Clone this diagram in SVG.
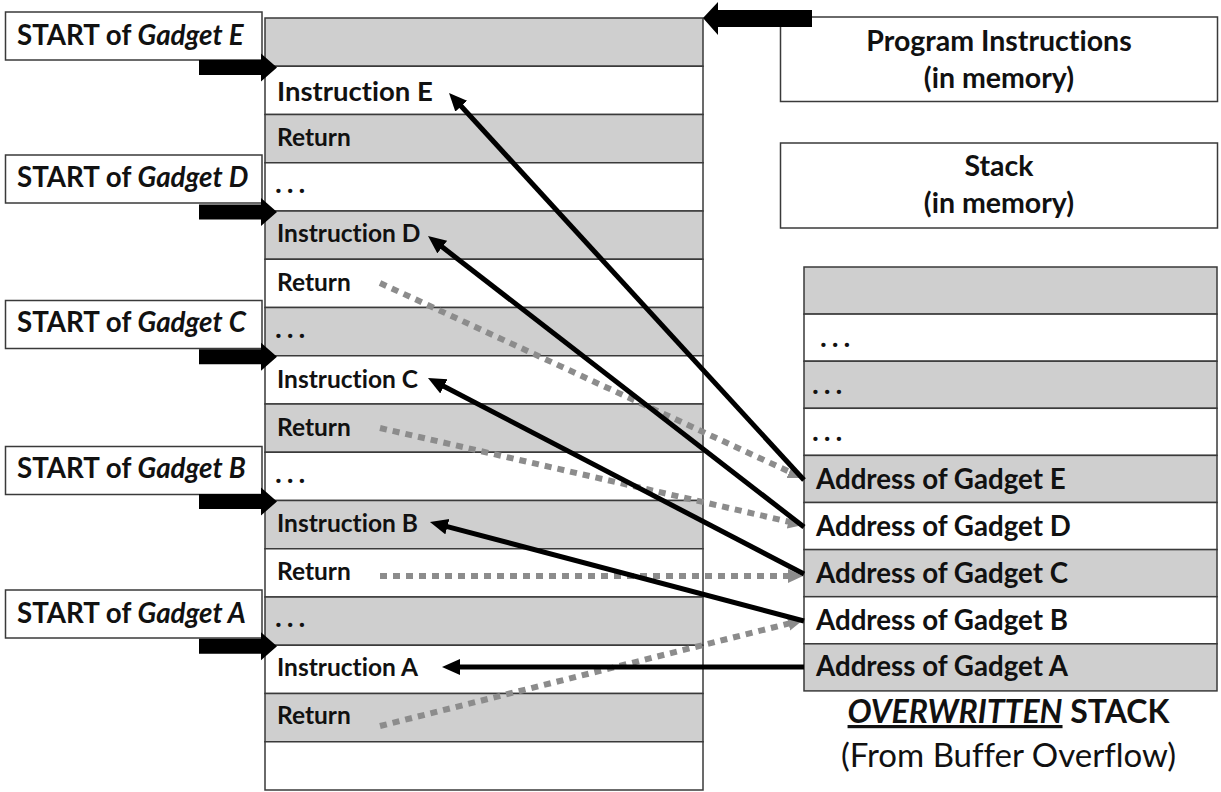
<svg xmlns="http://www.w3.org/2000/svg" width="1221" height="792" viewBox="0 0 1221 792">
  <style>
    .cell { stroke: #3a3a3a; stroke-width: 1.5; }
    .g { fill: #cfcfcf; }
    .w { fill: #ffffff; }
    .box { fill: #ffffff; stroke: #3a3a3a; stroke-width: 1.5; }
    text { font-variant-ligatures: none; }
    .t { font-family: Lato, "Open Sans", "Liberation Sans", sans-serif; font-weight: 700; fill: #111; }
    .row { font-size: 24.5px; }
    .big { font-size: 27.5px; }
    .dots { font-size: 26px; font-weight: 900; font-style: italic; }
    .lab { font-size: 27.7px; }
    .addr { font-size: 27.7px; }
    .leg { font-size: 28.5px; }
    .ptr { fill: #000; }
    .jump { fill: none; stroke: #000; stroke-width: 5; marker-end: url(#headBlack); }
    .ret { fill: none; stroke: #8c8c8c; stroke-width: 6; stroke-dasharray: 7 6; marker-end: url(#headGray); }
  </style>
  <defs>
    <marker id="headBlack" markerUnits="userSpaceOnUse" markerWidth="20" markerHeight="18" refX="4" refY="8" orient="auto">
      <path d="M0,0 L18,8 L0,16 z" fill="#000"/>
    </marker>
    <marker id="headGray" markerUnits="userSpaceOnUse" markerWidth="16" markerHeight="16" refX="3" refY="7" orient="auto">
      <path d="M0,0 L15,7 L0,14 z" fill="#8c8c8c"/>
    </marker>
  </defs>

  <rect width="1221" height="792" fill="#ffffff"/>

  <!-- program instructions in memory -->
  <g id="program-memory">
    <rect class="cell g" x="265" y="18" width="438" height="48.25"/>
    <rect class="cell w" x="265" y="66.25" width="438" height="48.25"/>
    <rect class="cell g" x="265" y="114.5" width="438" height="48.25"/>
    <rect class="cell w" x="265" y="162.75" width="438" height="48.25"/>
    <rect class="cell g" x="265" y="211" width="438" height="48.25"/>
    <rect class="cell w" x="265" y="259.25" width="438" height="48.25"/>
    <rect class="cell g" x="265" y="307.5" width="438" height="48.25"/>
    <rect class="cell w" x="265" y="355.75" width="438" height="48.25"/>
    <rect class="cell g" x="265" y="404" width="438" height="48.25"/>
    <rect class="cell w" x="265" y="452.25" width="438" height="48.25"/>
    <rect class="cell g" x="265" y="500.5" width="438" height="48.25"/>
    <rect class="cell w" x="265" y="548.75" width="438" height="48.25"/>
    <rect class="cell g" x="265" y="597" width="438" height="48.25"/>
    <rect class="cell w" x="265" y="645.25" width="438" height="48.25"/>
    <rect class="cell g" x="265" y="693.5" width="438" height="48.25"/>
    <rect class="cell w" x="265" y="741.75" width="438" height="48.25"/>
    <text class="t big" x="277" y="100.5">Instruction E</text>
    <text class="t row" x="277" y="146">Return</text>
    <text class="t dots" x="276" y="193">. . .</text>
    <text class="t row" x="277" y="242">Instruction D</text>
    <text class="t row" x="277" y="291">Return</text>
    <text class="t dots" x="276" y="338">. . .</text>
    <text class="t row" x="277" y="388">Instruction C</text>
    <text class="t row" x="277" y="436">Return</text>
    <text class="t dots" x="276" y="483">. . .</text>
    <text class="t row" x="277" y="532">Instruction B</text>
    <text class="t row" x="277" y="580">Return</text>
    <text class="t dots" x="276" y="627">. . .</text>
    <text class="t row" x="277" y="676">Instruction A</text>
    <text class="t row" x="277" y="724">Return</text>
  </g>

  <!-- gadget start labels with pointers -->
  <g id="start-e">
    <rect class="box" x="5.5" y="12" width="256.5" height="48"/>
    <text class="t lab" x="17" y="45">START of <tspan font-style="italic">Gadget E</tspan></text>
    <polygon class="ptr" points="199,60 261,60 261,53.5 277,67.5 261,81.5 261,75 199,75"/>
  </g>
  <g id="start-d">
    <rect class="box" x="5.5" y="155" width="256.5" height="48"/>
    <text class="t lab" x="17" y="187">START of <tspan font-style="italic">Gadget D</tspan></text>
    <polygon class="ptr" points="199,204.5 261,204.5 261,198 277,212 261,226 261,219.5 199,219.5"/>
  </g>
  <g id="start-c">
    <rect class="box" x="5.5" y="300.5" width="256.5" height="48"/>
    <text class="t lab" x="17" y="332">START of <tspan font-style="italic">Gadget C</tspan></text>
    <polygon class="ptr" points="199,349.3 261,349.3 261,342.8 277,356.8 261,370.8 261,364.3 199,364.3"/>
  </g>
  <g id="start-b">
    <rect class="box" x="5.5" y="446.5" width="256.5" height="48"/>
    <text class="t lab" x="17" y="478">START of <tspan font-style="italic">Gadget B</tspan></text>
    <polygon class="ptr" points="199,494 261,494 261,487.5 277,501.5 261,515.5 261,509 199,509"/>
  </g>
  <g id="start-a">
    <rect class="box" x="5.5" y="590" width="256.5" height="48"/>
    <text class="t lab" x="17" y="623">START of <tspan font-style="italic">Gadget A</tspan></text>
    <polygon class="ptr" points="199,638.8 261,638.8 261,632.3 277,646.3 261,660.3 261,653.8 199,653.8"/>
  </g>

  <!-- legend -->
  <g id="legend-program">
    <rect class="box" x="780.5" y="17" width="437" height="84.5"/>
    <text class="t leg" x="999" y="50.5" text-anchor="middle">Program Instructions</text>
    <text class="t leg" x="999" y="88" text-anchor="middle">(in memory)</text>
    <polygon class="ptr" points="812,10 718,10 718,2 703,18 718,35 718,27 812,27"/>
  </g>
  <g id="legend-stack">
    <rect class="box" x="780.5" y="143" width="437" height="85"/>
    <text class="t leg" x="999" y="176" text-anchor="middle">Stack</text>
    <text class="t leg" x="999" y="213" text-anchor="middle">(in memory)</text>
  </g>

  <!-- overwritten stack -->
  <g id="overwritten-stack">
    <rect class="cell g" x="804" y="267" width="413" height="47.1"/>
    <rect class="cell w" x="804" y="314.1" width="413" height="47.1"/>
    <rect class="cell g" x="804" y="361.2" width="413" height="47.1"/>
    <rect class="cell w" x="804" y="408.3" width="413" height="47.1"/>
    <rect class="cell g" x="804" y="455.4" width="413" height="47.1"/>
    <rect class="cell w" x="804" y="502.5" width="413" height="47.1"/>
    <rect class="cell g" x="804" y="549.6" width="413" height="47.1"/>
    <rect class="cell w" x="804" y="596.7" width="413" height="47.1"/>
    <rect class="cell g" x="804" y="643.8" width="413" height="47.1"/>
    <text class="t dots" x="821" y="347">. . .</text>
    <text class="t dots" x="813" y="394">. . .</text>
    <text class="t dots" x="813" y="441">. . .</text>
    <text class="t addr" x="816" y="489">Address of Gadget E</text>
    <text class="t addr" x="816" y="536">Address of Gadget D</text>
    <text class="t addr" x="816" y="583">Address of Gadget C</text>
    <text class="t addr" x="816" y="630">Address of Gadget B</text>
    <text class="t addr" x="816" y="676">Address of Gadget A</text>
  </g>
  <g id="caption">
    <text class="t" x="1008.5" y="723" font-size="32" text-anchor="middle"><tspan font-style="italic" text-decoration="underline">OVERWRITTEN</tspan> STACK</text>
    <text x="1008.5" y="767" font-family="Lato, Open Sans, Liberation Sans, sans-serif" font-size="33" fill="#111" text-anchor="middle">(From Buffer Overflow)</text>
  </g>

  <!-- connectors: return hops (dotted) and jumps to gadget code (solid) -->
  <g id="connectors">
    <path class="ret" d="M380,283 L792.1,473"/>
    <path class="ret" d="M380,428 L791.3,522.3"/>
    <path class="ret" d="M380,576 L791,576"/>
    <path class="ret" d="M380,726 L791.4,622.9"/>
    <path class="jump" d="M804,480 L458.5,103.3"/>
    <path class="jump" d="M804,527 L439.1,244.6"/>
    <path class="jump" d="M804,574 L440.4,384.5"/>
    <path class="jump" d="M804,621 L443.5,525.6"/>
    <path class="jump" d="M804,667 L456,667"/>
  </g>
</svg>
